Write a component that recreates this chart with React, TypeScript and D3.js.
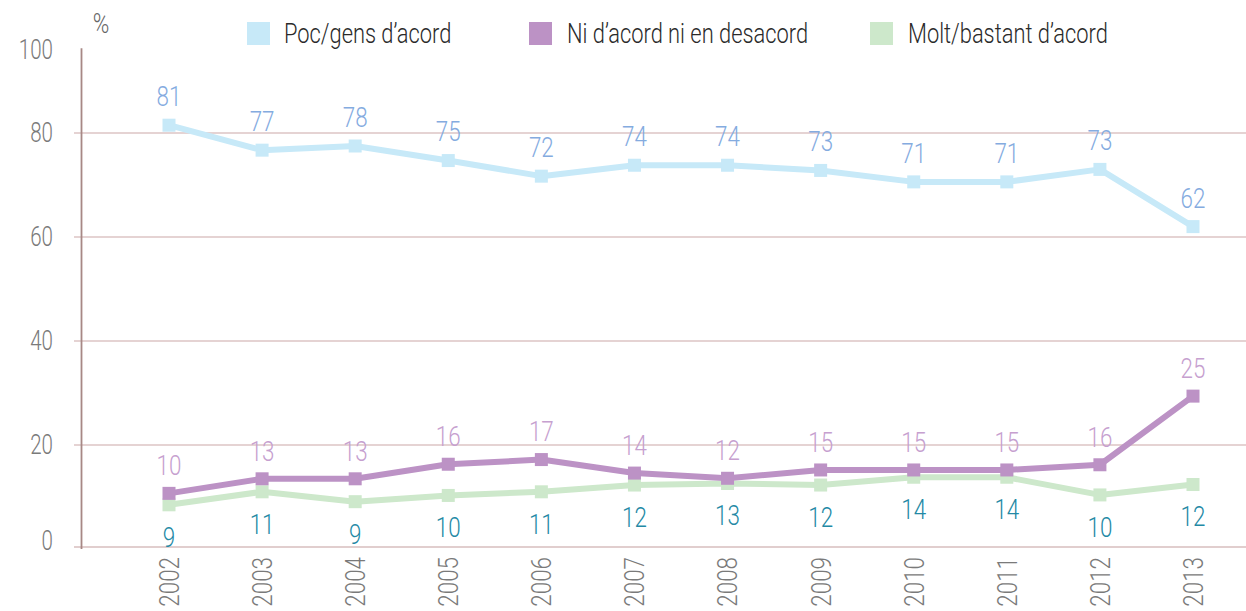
import React from "react";
import * as d3 from "d3";

const years = ["2002", "2003", "2004", "2005", "2006", "2007", "2008", "2009", "2010", "2011", "2012", "2013"];
const pocValues = [81.5, 76.7, 77.5, 74.7, 71.7, 73.8, 73.8, 72.8, 70.6, 70.6, 73.0, 62.0];
const pocLabels = [81, 77, 78, 75, 72, 74, 74, 73, 71, 71, 73, 62];
const niValues = [10.7, 13.5, 13.5, 16.3, 17.2, 14.6, 13.6, 15.2, 15.2, 15.2, 16.2, 29.4];
const niLabels = [10, 13, 13, 16, 17, 14, 12, 15, 15, 15, 16, 25];
const moltValues = [8.5, 11.0, 9.1, 10.3, 11.0, 12.3, 12.6, 12.3, 13.8, 13.8, 10.4, 12.4];
const moltLabels = [9, 11, 9, 10, 11, 12, 13, 12, 14, 14, 10, 12];
const yTicks = [0, 20, 40, 60, 80, 100];
const legendNames = ["Poc/gens d\u2019acord", "Ni d\u2019acord ni en desacord", "Molt/bastant d\u2019acord"];

const W = 1246;
const H = 611;
const FONT = "Roboto, 'Liberation Sans', sans-serif";
const SX = 0.8;

type TProps = {
  x: number;
  y: number;
  rotate?: number;
  anchor?: "start" | "middle" | "end";
  size: number;
  fill: string;
  sx?: number;
  children: React.ReactNode;
};

function CText({ x, y, rotate = 0, anchor = "start", size, fill, sx = SX, children }: TProps) {
  return (
    <text
      transform={`translate(${x},${y}) rotate(${rotate}) scale(${sx},1)`}
      textAnchor={anchor}
      dominantBaseline="central"
      fontSize={size}
      fontWeight={300}
      fill={fill}
    >
      {children}
    </text>
  );
}

export default function App() {
  const x = d3.scalePoint<string>().domain(years).range([169, 1193]);
  const y = d3.scaleLinear().domain([0, 100]).range([549, 29]);
  const axisX = 81.5;
  const axisTop = y(96.3);
  const line = d3
    .line<number>()
    .x((_, i) => x(years[i]) as number)
    .y((d) => y(d));

  const series = [
    { name: legendNames[2], values: moltValues, labels: moltLabels, line: "#cde8cb", text: "#2389a5", dy: 32 },
    { name: legendNames[1], values: niValues, labels: niLabels, line: "#bc92c5", text: "#c6a0cf", dy: -28 },
    { name: legendNames[0], values: pocValues, labels: pocLabels, line: "#c7e9f8", text: "#84abdf", dy: -29 },
  ];
  const legend = [
    { name: legendNames[0], color: "#c7e9f8", sx: 247, tx: 284 },
    { name: legendNames[1], color: "#bc92c5", sx: 529, tx: 567 },
    { name: legendNames[2], color: "#cde8cb", sx: 870, tx: 908 },
  ];
  const sq = 13;

  return (
    <svg width={W} height={H} style={{ position: "absolute", left: 0, top: 0, background: "#fff" }} fontFamily={FONT}>
      {yTicks.filter((t) => t > 0 && t < 100).map((t) => (
        <line key={t} x1={74} x2={W} y1={y(t)} y2={y(t)} stroke="#dcc5c5" strokeWidth={1.5} />
      ))}
      <line x1={74} x2={W} y1={y(0) - 2} y2={y(0) - 2} stroke="#d7bebe" strokeWidth={1.5} />
      <line x1={axisX} x2={axisX} y1={axisTop} y2={y(0)} stroke="#a78885" strokeWidth={1.8} />
      {yTicks.map((t) => (
        <CText key={t} x={53} y={t === 100 ? axisTop + 2 : t === 0 ? y(0) - 8 : y(t)} anchor="end" size={27} sx={0.76} fill="#7a7a7a">
          {t}
        </CText>
      ))}
      <CText x={101} y={23} anchor="middle" size={28} fill="#666">%</CText>
      {years.map((yr) => (
        <CText key={yr} x={x(yr) as number} y={557} rotate={-90} anchor="end" size={28} fill="#7a7a7a">
          {yr}
        </CText>
      ))}
      {series.map((s) => (
        <g key={s.name}>
          <path d={line(s.values) || ""} fill="none" stroke={s.line} strokeWidth={6} strokeLinejoin="round" />
          {s.values.map((v, i) => (
            <rect key={i} x={(x(years[i]) as number) - sq / 2} y={y(v) - sq / 2} width={sq} height={sq} fill={s.line} />
          ))}
        </g>
      ))}
      {series.map((s) => (
        <g key={s.name + "-lab"}>
          {s.values.map((v, i) => (
            <CText key={i} x={x(years[i]) as number} y={y(v) + s.dy} anchor="middle" size={28} fill={s.text}>
              {s.labels[i]}
            </CText>
          ))}
        </g>
      ))}
      {legend.map((l) => (
        <g key={l.name}>
          <rect x={l.sx} y={22} width={23} height={23} fill={l.color} />
          <CText x={l.tx} y={34} size={27} sx={0.81} fill="#2a2a2a">
            {l.name}
          </CText>
        </g>
      ))}
    </svg>
  );
}
